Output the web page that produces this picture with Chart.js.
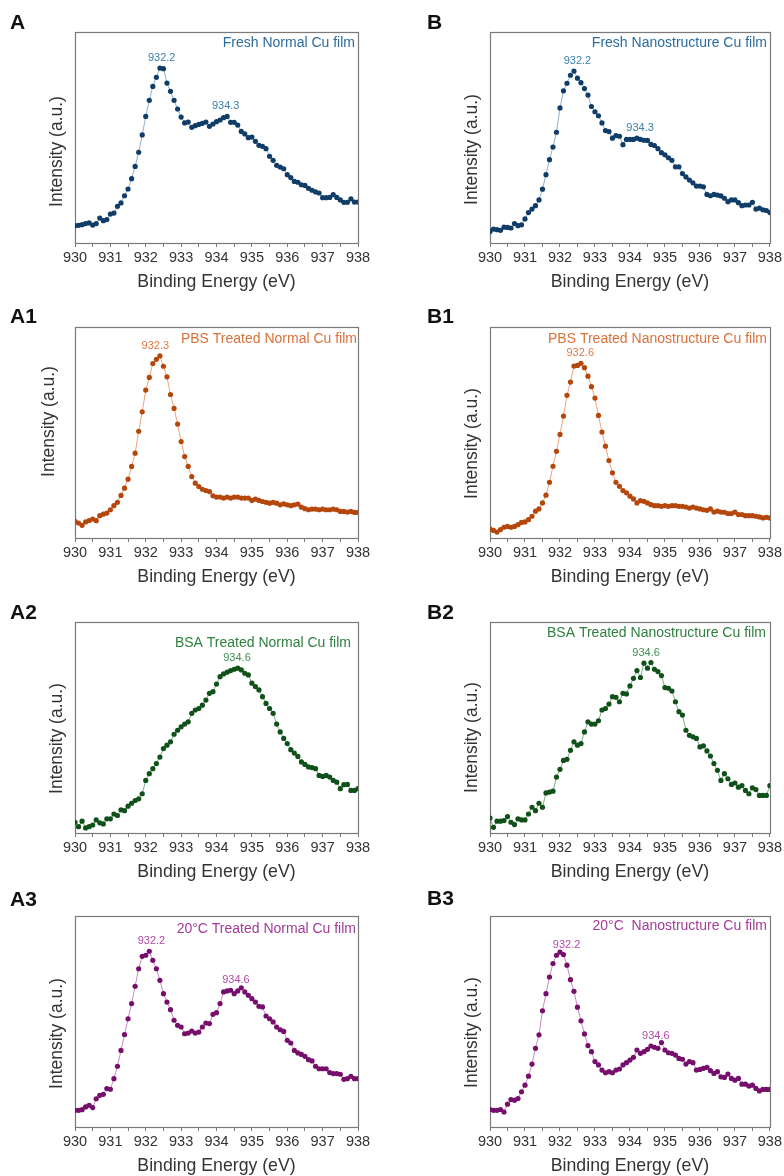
<!DOCTYPE html>
<html>
<head>
<meta charset="utf-8">
<title>Cu 2p XPS spectra</title>
<script src="https://cdn.jsdelivr.net/npm/chart.js@4.4.1/dist/chart.umd.min.js"></script>
<style>
  html, body { margin: 0; padding: 0; background: #fff; }
  body { position: relative; width: 784px; height: 1176px; overflow: hidden; }
  canvas { position: absolute; }
</style>
</head>
<body>
<canvas id="pA"  width="392" height="294" style="left:0;top:0"></canvas>
<canvas id="pB"  width="392" height="294" style="left:392px;top:0"></canvas>
<canvas id="pA1" width="392" height="294" style="left:0;top:295px"></canvas>
<canvas id="pB1" width="392" height="294" style="left:392px;top:295px"></canvas>
<canvas id="pA2" width="392" height="294" style="left:0;top:590px"></canvas>
<canvas id="pB2" width="392" height="294" style="left:392px;top:590px"></canvas>
<canvas id="pA3" width="392" height="294" style="left:0;top:884px"></canvas>
<canvas id="pB3" width="392" height="294" style="left:392px;top:884px"></canvas>
<script>
// binding energy grid (eV)
const energy = [
  930.0, 930.1, 930.2, 930.3, 930.4, 930.5, 930.6, 930.7, 930.8, 930.9,
  931.0, 931.1, 931.2, 931.3, 931.4, 931.5, 931.6, 931.7, 931.8, 931.9,
  932.0, 932.1, 932.2, 932.3, 932.4, 932.5, 932.6, 932.7, 932.8, 932.9,
  933.0, 933.1, 933.2, 933.3, 933.4, 933.5, 933.6, 933.7, 933.8, 933.9,
  934.0, 934.1, 934.2, 934.3, 934.4, 934.5, 934.6, 934.7, 934.8, 934.9,
  935.0, 935.1, 935.2, 935.3, 935.4, 935.5, 935.6, 935.7, 935.8, 935.9,
  936.0, 936.1, 936.2, 936.3, 936.4, 936.5, 936.6, 936.7, 936.8, 936.9,
  937.0, 937.1, 937.2, 937.3, 937.4, 937.5, 937.6, 937.7, 937.8, 937.9,
  938.0
];
const xTicks = [930, 931, 932, 933, 934, 935, 936, 937, 938];

// intensities (a.u.)
const freshNormal = [
  8.2, 8.4, 8.7, 9.2, 9.5, 8.5, 9.2, 11.8, 10.6, 11.1,
  13.7, 14.2, 17.4, 19.0, 22.4, 25.6, 30.5, 36.3, 43.0, 51.2,
  60.0, 67.6, 74.2, 78.5, 82.9, 82.6, 75.8, 71.9, 67.6, 63.5,
  59.7, 56.9, 57.3, 54.8, 55.6, 56.2, 56.7, 57.3, 55.3, 56.4,
  57.5, 58.3, 59.4, 60.0, 57.2, 57.2, 55.9, 52.9, 51.7, 49.9,
  50.2, 48.2, 46.3, 45.8, 44.7, 41.1, 39.2, 36.8, 36.0, 35.2,
  32.4, 31.0, 29.2, 28.8, 27.6, 27.3, 25.9, 25.0, 24.2, 23.7,
  21.5, 21.5, 21.6, 22.9, 21.6, 20.4, 19.3, 19.3, 20.9, 19.4,
  19.4
];
const freshNano = [
  5.5, 6.6, 6.3, 6.0, 7.5, 7.4, 7.1, 9.2, 8.2, 8.6,
  11.4, 14.4, 16.1, 17.7, 20.4, 25.5, 32.4, 39.5, 45.5, 52.5,
  64.0, 72.1, 75.7, 79.5, 81.5, 78.1, 76.0, 73.2, 70.1, 64.7,
  62.2, 60.3, 56.9, 53.3, 52.8, 49.7, 50.9, 50.6, 46.6, 49.1,
  49.1, 49.1, 49.7, 49.1, 48.7, 48.6, 46.7, 46.2, 44.7, 42.8,
  41.8, 40.4, 39.2, 36.1, 36.1, 32.9, 31.3, 29.8, 28.5, 27.0,
  27.0, 26.6, 23.0, 22.4, 23.0, 22.7, 22.3, 21.2, 19.6, 20.4,
  20.4, 19.1, 17.7, 18.0, 18.0, 19.3, 16.1, 16.5, 15.7, 15.4,
  14.4
];
const pbsNormal = [
  7.9, 7.1, 6.0, 7.6, 8.3, 9.0, 8.2, 10.6, 11.3, 11.8,
  13.4, 15.3, 16.9, 20.2, 23.6, 27.9, 33.9, 40.2, 50.6, 59.8,
  70.1, 76.1, 82.7, 84.7, 86.3, 81.4, 76.4, 68.0, 61.4, 54.0,
  45.7, 38.6, 33.9, 29.1, 26.0, 24.4, 23.1, 22.5, 22.0, 20.0,
  19.4, 19.4, 18.9, 19.4, 18.9, 19.4, 19.4, 18.9, 18.9, 18.9,
  17.8, 18.4, 17.8, 17.3, 16.9, 16.5, 16.9, 16.5, 15.7, 16.2,
  15.7, 15.3, 15.7, 16.1, 14.6, 13.9, 13.4, 13.7, 13.7, 13.4,
  13.7, 13.4, 13.4, 13.7, 13.4, 12.6, 12.6, 12.3, 12.6, 12.1,
  12.1
];
const pbsNano = [
  4.3, 3.6, 2.8, 4.0, 5.1, 5.5, 5.1, 5.5, 6.3, 7.4,
  7.6, 8.7, 10.3, 12.7, 13.8, 16.6, 20.3, 26.4, 34.0, 41.1,
  49.1, 57.8, 67.6, 73.9, 81.5, 81.8, 82.8, 80.7, 76.7, 71.7,
  66.3, 58.1, 50.2, 43.5, 36.7, 30.9, 26.4, 24.5, 22.5, 21.4,
  19.8, 18.5, 16.6, 17.7, 17.4, 16.6, 15.8, 15.3, 15.3, 15.0,
  15.3, 15.0, 15.3, 15.3, 15.0, 15.0, 14.7, 14.2, 14.7, 14.2,
  13.8, 13.4, 13.1, 13.8, 12.3, 12.7, 12.3, 12.2, 11.6, 11.6,
  12.3, 11.1, 11.1, 10.6, 10.6, 10.6, 10.3, 10.0, 9.5, 9.8,
  9.5
];
const bsaNormal = [
  5.1, 3.0, 5.6, 2.4, 3.0, 3.8, 6.2, 4.8, 4.3, 6.7,
  6.7, 9.0, 8.3, 11.0, 10.6, 12.7, 14.1, 15.4, 16.2, 18.6,
  24.9, 28.1, 30.5, 32.9, 36.0, 40.0, 41.6, 43.2, 46.8, 48.7,
  50.3, 51.6, 52.7, 56.7, 58.3, 59.0, 60.6, 63.0, 66.2, 67.0,
  70.6, 74.1, 75.4, 76.2, 77.0, 77.6, 78.1, 77.3, 75.7, 74.9,
  71.0, 69.4, 67.8, 64.6, 61.4, 59.0, 56.7, 51.6, 47.9, 44.8,
  42.4, 39.5, 37.9, 36.3, 33.7, 32.5, 31.3, 31.0, 30.5, 27.3,
  26.8, 27.3, 26.5, 24.9, 24.1, 21.0, 22.9, 23.0, 20.2, 20.2,
  21.0
];
const bsaNano = [
  7.1, 2.7, 5.6, 5.6, 5.9, 7.8, 5.1, 4.0, 6.7, 6.2,
  6.2, 9.0, 12.2, 10.6, 14.1, 12.2, 19.0, 19.4, 19.8, 26.5,
  30.2, 34.4, 34.9, 39.2, 43.2, 41.6, 42.4, 47.9, 52.7, 51.6,
  51.6, 53.2, 58.3, 59.0, 61.1, 64.6, 64.3, 62.2, 66.2, 65.9,
  69.7, 73.3, 77.0, 73.7, 80.5, 78.1, 80.8, 77.6, 76.5, 74.6,
  68.9, 68.6, 67.3, 62.2, 57.5, 55.9, 48.7, 46.3, 45.6, 44.8,
  40.8, 41.3, 38.9, 36.5, 32.9, 29.7, 24.9, 28.1, 25.7, 23.0,
  23.7, 21.7, 22.5, 20.2, 18.6, 21.4, 20.6, 17.8, 17.8, 17.8,
  22.5
];
const warmNormal = [
  7.9, 7.9, 8.2, 9.5, 10.3, 9.2, 13.4, 15.0, 15.5, 18.2,
  17.9, 22.9, 28.8, 36.3, 43.8, 51.3, 58.5, 66.7, 75.0, 80.9,
  81.4, 83.3, 79.0, 75.0, 69.5, 63.2, 59.2, 55.6, 50.6, 48.2,
  47.4, 44.2, 44.5, 45.5, 44.5, 45.0, 47.4, 49.3, 49.0, 53.4,
  54.2, 58.5, 64.0, 64.5, 64.8, 63.2, 64.5, 66.0, 64.0, 62.4,
  60.8, 59.2, 57.2, 56.9, 52.6, 51.3, 49.8, 47.4, 46.1, 45.3,
  41.1, 39.8, 36.3, 35.1, 34.4, 33.5, 31.9, 31.3, 28.8, 27.6,
  27.6, 27.6, 25.8, 25.3, 25.3, 25.0, 22.6, 22.9, 24.0, 22.9,
  22.9
];
const warmNano = [
  8.3, 7.9, 7.9, 8.3, 7.1, 10.8, 13.0, 12.7, 13.5, 16.7,
  19.8, 24.1, 29.8, 37.3, 43.7, 55.1, 63.2, 71.1, 77.5, 81.4,
  82.9, 81.7, 76.7, 69.8, 64.3, 56.8, 50.3, 44.1, 38.6, 35.7,
  31.0, 29.4, 27.0, 25.7, 26.2, 25.7, 27.0, 27.5, 29.4, 30.5,
  31.7, 33.0, 36.5, 34.9, 35.7, 36.8, 38.4, 37.8, 37.3, 40.0,
  36.5, 35.2, 34.9, 34.1, 32.5, 32.1, 29.8, 31.0, 30.5, 27.0,
  27.3, 27.8, 28.3, 26.7, 25.4, 26.2, 23.8, 23.5, 25.1, 23.0,
  22.2, 23.0, 20.3, 20.3, 19.4, 19.8, 18.3, 17.1, 17.8, 17.8,
  17.8
];

const FONT = '"Liberation Sans", Arial, Helvetica, sans-serif';

const colors = {
  fresh: { point: '#0f3d68', line: '#8fb0cc', text: '#2b6c9c', peak: '#3d7fae' },
  pbs:   { point: '#b4470c', line: '#f2a27c', text: '#d9713a', peak: '#e07a44' },
  bsa:   { point: '#0f5119', line: '#7fae84', text: '#2f8040', peak: '#3f8f50' },
  warm:  { point: '#760e6c', line: '#c98ac0', text: '#a33b98', peak: '#b04aa5' }
};

const panels = [
  { id: 'pA',  letter: 'A',  col: 0, data: freshNormal, c: colors.fresh, title: 'Fresh Normal Cu film',
    peaks: [['932.2', 932.45], ['934.3', 934.26]], titleDx: 3, titleDy: 11, letterGap: 3, yDx: 0, yDy: 14 },
  { id: 'pB',  letter: 'B',  col: 1, data: freshNano, c: colors.fresh, title: 'Fresh Nanostructure Cu film',
    peaks: [['932.2', 932.5], ['934.3', 934.29]], titleDx: 3, titleDy: 11, letterGap: 3, yDx: 0, yDy: 12 },
  { id: 'pA1', letter: 'A1', col: 0, data: pbsNormal, c: colors.pbs, title: 'PBS Treated Normal Cu film',
    peaks: [['932.3', 932.27]], titleDx: 1, titleDy: 12, letterGap: 4, yDx: -8, yDy: -11 },
  { id: 'pB1', letter: 'B1', col: 1, data: pbsNano, c: colors.pbs, title: 'PBS Treated Nanostructure Cu film',
    peaks: [['932.6', 932.58]], titleDx: 3, titleDy: 12, letterGap: 4, yDx: 0, yDy: 11 },
  { id: 'pA2', letter: 'A2', col: 0, data: bsaNormal, c: colors.bsa, title: 'BSA Treated Normal Cu film',
    peaks: [['934.6', 934.58]], titleDx: 7, titleDy: 21, letterGap: 3, yDx: 0, yDy: 11 },
  { id: 'pB2', letter: 'B2', col: 1, data: bsaNano, c: colors.bsa, title: 'BSA Treated Nanostructure Cu film',
    peaks: [['934.6', 934.46]], titleDx: 4, titleDy: 11, letterGap: 3, yDx: 0, yDy: 10 },
  { id: 'pA3', letter: 'A3', col: 0, data: warmNormal, c: colors.warm, title: '20\u00B0C Treated Normal Cu film',
    peaks: [['932.2', 932.16], ['934.6', 934.55]], titleDx: 2, titleDy: 13, letterGap: 10, yDx: 0, yDy: 12 },
  { id: 'pB3', letter: 'B3', col: 1, data: warmNano, c: colors.warm, title: '20\u00B0C  Nanostructure Cu film',
    peaks: [['932.2', 932.19], ['934.6', 934.74]], titleDx: 3, titleDy: 10, letterGap: 11, yDx: 0, yDy: 11 }
];

// frame, panel letter, inset title, peak labels, y title
const decor = {
  id: 'decor',
  beforeDatasetsDraw(chart, args, o) {
    const { ctx, chartArea: a } = chart;
    ctx.save();
    ctx.strokeStyle = '#7a7a7a';
    ctx.lineWidth = 1.2;
    ctx.strokeRect(Math.round(a.left) + 0.5, Math.round(a.top) + 0.5,
                   Math.round(a.right - a.left), Math.round(a.bottom - a.top));
    ctx.restore();
  },
  afterDraw(chart, args, o) {
    const { ctx, chartArea: a, scales: { x, y } } = chart;
    const p = o.panel;
    ctx.save();

    ctx.fillStyle = '#111';
    ctx.font = 'bold 21px ' + FONT;
    ctx.textAlign = 'left';
    ctx.textBaseline = 'alphabetic';
    ctx.fillText(p.letter, p.col ? 35 : 10, a.top - p.letterGap);

    ctx.fillStyle = p.c.text;
    ctx.font = '14px ' + FONT;
    ctx.textAlign = 'right';
    ctx.textBaseline = 'middle';
    ctx.fillText(p.title, a.right - p.titleDx, a.top + p.titleDy);

    ctx.fillStyle = p.c.peak;
    ctx.font = '11px ' + FONT;
    ctx.textAlign = 'center';
    p.peaks.forEach(([txt, at]) => {
      let top = -Infinity;
      energy.forEach((e, i) => { if (Math.abs(e - at) <= 0.15) top = Math.max(top, p.data[i]); });
      ctx.fillText(txt, x.getPixelForValue(at), y.getPixelForValue(top) - 10);
    });

    ctx.fillStyle = '#333';
    ctx.font = '17.5px ' + FONT;
    ctx.translate((p.col ? 80 : 57) + p.yDx, (a.top + a.bottom) / 2 + p.yDy);
    ctx.rotate(-Math.PI / 2);
    ctx.fillText('Intensity (a.u.)', 0, 0);
    ctx.restore();
  }
};

panels.forEach(p => {
  new Chart(document.getElementById(p.id), {
    type: 'line',
    data: {
      datasets: [{
        data: energy.map((e, i) => ({ x: e, y: p.data[i] })),
        borderColor: p.c.line,
        borderWidth: 1,
        pointRadius: 2.6,
        pointBorderWidth: 0,
        pointBackgroundColor: p.c.point,
        tension: 0
      }]
    },
    options: {
      responsive: false,
      animation: false,
      devicePixelRatio: 1,
      layout: { padding: p.col ? { left: 98, right: 12, top: 32, bottom: 0 }
                               : { left: 75, right: 34, top: 32, bottom: 0 } },
      plugins: { legend: { display: false }, tooltip: { enabled: false }, decor: { panel: p } },
      scales: {
        x: {
          type: 'linear',
          min: 930, max: 938,
          afterFit: s => { s.height = 51; },
          border: { display: false },
          grid: { drawOnChartArea: false, drawTicks: true, tickLength: 4, color: '#7a7a7a' },
          ticks: {
            stepSize: 0.5, autoSkip: false, maxRotation: 0, padding: 2,
            color: '#333', font: { family: FONT, size: 14.5 },
            callback: v => xTicks.includes(v) ? String(v) : ''
          },
          title: { display: true, text: 'Binding Energy (eV)', color: '#333',
                   font: { family: FONT, size: 17.7 }, padding: { top: 0, bottom: 1 } }
        },
        y: { display: false, min: 0, max: 100 }
      }
    },
    plugins: [decor]
  });
});
</script>
</body>
</html>
